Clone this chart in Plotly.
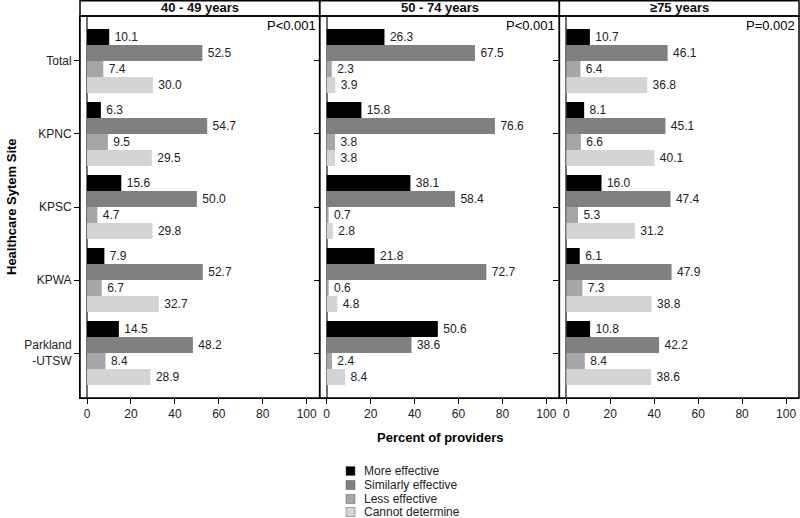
import plotly.graph_objects as go
from plotly.subplots import make_subplots

sites = ['Total', 'KPNC', 'KPSC', 'KPWA', 'Parkland<br>-UTSW']
panels = ['40 - 49 years', '50 - 74 years', '≥75 years']
pvalues = ['P<0.001', 'P<0.001', 'P=0.002']
responses = ['More effective', 'Similarly effective', 'Less effective', 'Cannot determine']
colors = ['#000000', '#808080', '#a6a6a6', '#d4d4d4']

# percent of providers, one list per response, per age panel (site order as above)
more_eff = [
    [10.1, 6.3, 15.6, 7.9, 14.5],
    [26.3, 15.8, 38.1, 21.8, 50.6],
    [10.7, 8.1, 16.0, 6.1, 10.8],
]
similar_eff = [
    [52.5, 54.7, 50.0, 52.7, 48.2],
    [67.5, 76.6, 58.4, 72.7, 38.6],
    [46.1, 45.1, 47.4, 47.9, 42.2],
]
less_eff = [
    [7.4, 9.5, 4.7, 6.7, 8.4],
    [2.3, 3.8, 0.7, 0.6, 2.4],
    [6.4, 6.6, 5.3, 7.3, 8.4],
]
cannot_det = [
    [30.0, 29.5, 29.8, 32.7, 28.9],
    [3.9, 3.8, 2.8, 4.8, 8.4],
    [36.8, 40.1, 31.2, 38.8, 38.6],
]
series = [more_eff, similar_eff, less_eff, cannot_det]

font = 'Liberation Sans, Arial, sans-serif'

fig = make_subplots(rows=1, cols=3, shared_yaxes=True, horizontal_spacing=0)

for p in range(3):
    for k, name in enumerate(responses):
        fig.add_trace(go.Bar(
            y=sites, x=series[k][p], orientation='h', name=name,
            marker=dict(color=colors[k], line=dict(color=colors[k], width=0)),
            text=series[k][p], texttemplate='\u2009%{x:.1f}', textposition='outside',
            textfont=dict(size=12, color='#222222', family=font),
            constraintext='none', cliponaxis=False, showlegend=False,
        ), row=1, col=p + 1)

for p in range(3):
    fig.update_xaxes(
        range=[-3.2, 105.9], tickvals=[0, 20, 40, 60, 80, 100],
        ticks='outside', ticklen=5, tickcolor='#000', showgrid=False,
        showline=True, linecolor='#000', linewidth=1,
        zeroline=True, zerolinecolor='#707070', zerolinewidth=2,
        tickfont=dict(size=12, color='#222', family=font), automargin=False,
        row=1, col=p + 1)

fig.update_yaxes(
    range=[4.616, -0.616], showgrid=False, zeroline=False,
    ticks='outside', ticklen=5, tickcolor='#000', automargin=False,
    tickfont=dict(size=12, color='#222', family=font))
fig.update_yaxes(showline=True, linecolor='#000', linewidth=1, row=1, col=1)

W = 800
top_px = 16
bottom_px = 398
plot_w = W - 80 - 1
plot_h = bottom_px - top_px
hdr = top_px / plot_h


def px_x(x):
    return (x - 80) / plot_w


def px_y(y):
    return (bottom_px - y) / plot_h


shapes = []
edges = [0, 1 / 3, 2 / 3, 1]
for p in range(3):
    x0, x1 = edges[p], edges[p + 1]
    shapes.append(dict(type='rect', xref='paper', yref='paper', x0=x0, x1=x1,
                       y0=0, y1=1, line=dict(color='#000', width=1.5)))
    shapes.append(dict(type='rect', xref='paper', yref='paper', x0=x0, x1=x1,
                       y0=1, y1=1 + hdr - 0.002, line=dict(color='#000', width=1.5)))

annotations = []
for p in range(3):
    mid = (edges[p] + edges[p + 1]) / 2
    annotations.append(dict(text='<b>' + panels[p] + '</b>', x=mid, y=1 + hdr / 2,
                            xref='paper', yref='paper', xanchor='center', yanchor='middle',
                            showarrow=False, font=dict(size=13, color='#111', family=font)))
    annotations.append(dict(text=pvalues[p], x=edges[p + 1] - 0.003, y=1,
                            xref='paper', yref='paper', xanchor='right', yanchor='top',
                            showarrow=False, font=dict(size=13, color='#000', family=font)))
annotations.append(dict(text='<b>Percent of providers</b>', x=0.5, y=px_y(437),
                        xref='paper', yref='paper', xanchor='center', yanchor='middle',
                        showarrow=False, font=dict(size=13, color='#000', family=font)))
annotations.append(dict(text='<b>Healthcare Sytem Site</b>', x=px_x(11), y=0.5,
                        xref='paper', yref='paper', xanchor='center', yanchor='middle',
                        showarrow=False, textangle=-90,
                        font=dict(size=13, color='#000', family=font)))

# legend block below the axis title
leg_y = [471, 485, 499, 512]
for k, name in enumerate(responses):
    shapes.append(dict(type='rect', xref='paper', yref='paper',
                       x0=px_x(346), x1=px_x(355), y0=px_y(leg_y[k] + 4.5), y1=px_y(leg_y[k] - 4.5),
                       fillcolor=colors[k], line=dict(color='#555', width=0.5)))
    annotations.append(dict(text=name, x=px_x(362), y=px_y(leg_y[k]),
                            xref='paper', yref='paper', xanchor='left', yanchor='middle',
                            showarrow=False, font=dict(size=12, color='#222', family=font)))

fig.update_layout(shapes=shapes, annotations=annotations)

fig.update_layout(
    width=W, height=518,
    margin=dict(l=80, r=1, t=top_px, b=518 - bottom_px, autoexpand=False),
    barmode='group', bargap=0.123, bargroupgap=0,
    plot_bgcolor='white', paper_bgcolor='white',
    font=dict(family=font, size=12, color='#222'),
)

fig.write_html('out.html', config={'displayModeBar': False},
               post_script="document.body.style.margin='0';")
